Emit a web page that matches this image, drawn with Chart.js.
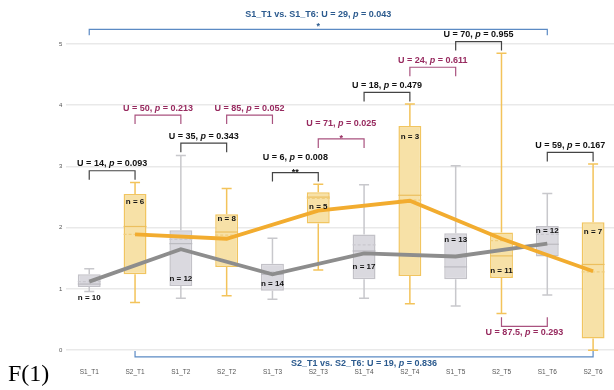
<!DOCTYPE html>
<html>
<head>
<meta charset="utf-8">
<script src="https://cdn.jsdelivr.net/npm/chart.js@4.4.1/dist/chart.umd.min.js"></script>
<style>
    html, body { margin: 0; padding: 0; background: #fff; overflow: hidden; }
    #wrap { position: relative; width: 614px; height: 390px; overflow: hidden; }
    #figLabel {
        position: absolute; left: 8px; top: 361px;
        font-family: "Liberation Serif", "DejaVu Serif", serif; font-size: 24px; color: #000;
        line-height: 1;
    }
</style>
</head>
<body>
<div id="wrap">
    <canvas id="boxChart" width="622" height="408"></canvas>
    <div id="figLabel">F(1)</div>
</div>
<script>
// --- データ ---
const categories  = ['S1_T1', 'S2_T1', 'S1_T2', 'S2_T2', 'S1_T3', 'S2_T3', 'S1_T4', 'S2_T4', 'S1_T5', 'S2_T5', 'S1_T6', 'S2_T6'];
const whiskerLow  = [0.96, 0.78, 0.85, 0.89, 0.83, 1.31, 0.85, 0.76, 0.72, 0.60, 0.90, 0.00];
const quartile1   = [1.03, 1.24, 1.05, 1.36, 0.97, 2.07, 1.16, 1.21, 1.16, 1.18, 1.53, 0.19];
const medians     = [1.08, 2.02, 1.74, 1.93, 1.24, 2.50, 1.62, 2.53, 1.36, 1.54, 1.73, 1.40];
const means       = [1.12, 1.89, 1.81, 1.88, 1.28, 2.48, 1.72, 2.45, 1.52, 1.79, 1.89, 1.28];
const quartile3   = [1.24, 2.55, 1.96, 2.22, 1.41, 2.58, 1.89, 3.66, 1.91, 1.92, 2.03, 2.09];
const whiskerHigh = [1.33, 2.74, 3.18, 2.64, 1.83, 2.71, 2.70, 4.02, 3.01, 4.85, 2.56, 3.04];
const sampleSizes = [10, 6, 12, 8, 14, 5, 17, 3, 13, 11, 12, 7];
// n ラベルの値位置 (y)
const nLabelAt    = [0.85, 2.43, 1.17, 2.14, 1.08, 2.34, 1.37, 3.48, 1.81, 1.29, 1.95, 1.94];

// 折れ線 (S1 / S2)
const s1Trend = [1.12, 1.65, 1.24, 1.58, 1.53, 1.74];
const s2Trend = [1.89, 1.82, 2.28, 2.44, 1.82, 1.29];

const yTicks = [0, 1, 2, 3, 4, 5];

// 検定ブラケット
const tests = [
    { a: 'S1_T1', b: 'S2_T1', y: 2.93, u: '14', p: '0.093', sig: '',   kind: 'pair' },
    { a: 'S1_T2', b: 'S2_T2', y: 3.38, u: '35', p: '0.343', sig: '',   kind: 'pair' },
    { a: 'S1_T3', b: 'S2_T3', y: 2.90, u: '6',  p: '0.008', sig: '**', kind: 'pair' },
    { a: 'S1_T4', b: 'S2_T4', y: 4.21, u: '18', p: '0.479', sig: '',   kind: 'pair' },
    { a: 'S1_T5', b: 'S2_T5', y: 5.04, u: '70', p: '0.955', sig: '',   kind: 'pair' },
    { a: 'S1_T6', b: 'S2_T6', y: 3.23, u: '59', p: '0.167', sig: '',   kind: 'pair' },
    { a: 'S2_T1', b: 'S1_T2', y: 3.84, u: '50', p: '0.213', sig: '',   kind: 'cross' },
    { a: 'S2_T2', b: 'S1_T3', y: 3.84, u: '85', p: '0.052', sig: '',   kind: 'cross' },
    { a: 'S2_T3', b: 'S1_T4', y: 3.45, u: '71', p: '0.025', sig: '*',  kind: 'cross' },
    { a: 'S2_T4', b: 'S1_T5', y: 4.62, u: '24', p: '0.611', sig: '',   kind: 'cross' },
    { a: 'S2_T5', b: 'S1_T6', y: 0.39, u: '87.5', p: '0.293', sig: '', kind: 'cross', below: true },
    { a: 'S1_T1', b: 'S1_T6', y: 5.24, u: '29', p: '0.043', sig: '*',  kind: 'span', title: 'S1_T1 vs. S1_T6: ' },
    { a: 'S2_T1', b: 'S2_T6', y: -0.11, u: '19', p: '0.836', sig: '',  kind: 'span', title: 'S2_T1 vs. S2_T6: ', below: true },
];

// --- スタイル ---
const FONT = '"Liberation Sans", Arial, sans-serif';
const boxStyle = {
    S1: { fill: '#dad9df', border: '#c3c2c8', whisker: '#c8c8cc', median: '#bbbac0', mean: '#c9c8ce' },
    S2: { fill: '#f7e1a7', border: '#f1c560', whisker: '#f3c35a', median: '#ecbf5e', mean: '#f0cd7d' },
};
const bracketStyle = {
    pair:  { line: '#444444', text: '#111111', tick: 9 },
    cross: { line: '#a9527f', text: '#972a5f', tick: 9 },
    span:  { line: '#5b8ac4', text: '#2b5a8e', tick: 6 },
};
const seriesOf = c => c.slice(0, 2);

// --- プラグイン: ひげ・中央値・平均 ---
const boxPartsPlugin = {
    id: 'boxParts',
    afterDatasetDraw(chart, args) {
        if (args.index !== 0) return;
        const { ctx, scales: { y } } = chart;
        const meta = chart.getDatasetMeta(0);
        ctx.save();
        categories.forEach((c, i) => {
            const st = boxStyle[seriesOf(c)];
            const bar = meta.data[i];
            const cx = bar.x;
            const half = bar.width / 2;
            const capHalf = 5;
            ctx.strokeStyle = st.whisker;
            ctx.lineWidth = 1.5;
            ctx.setLineDash([]);
            ctx.beginPath();
            ctx.moveTo(cx, y.getPixelForValue(quartile3[i]));
            ctx.lineTo(cx, y.getPixelForValue(whiskerHigh[i]));
            ctx.moveTo(cx, y.getPixelForValue(quartile1[i]));
            ctx.lineTo(cx, y.getPixelForValue(whiskerLow[i]));
            [whiskerHigh[i], whiskerLow[i]].forEach(v => {
                const py = y.getPixelForValue(v);
                ctx.moveTo(cx - capHalf, py);
                ctx.lineTo(cx + capHalf, py);
            });
            ctx.stroke();

            // 中央値
            ctx.strokeStyle = st.median;
            ctx.lineWidth = 1.2;
            ctx.beginPath();
            const pm = y.getPixelForValue(medians[i]);
            ctx.moveTo(cx - half, pm);
            ctx.lineTo(cx + half, pm);
            ctx.stroke();

            // 平均 (破線)
            ctx.strokeStyle = st.mean;
            ctx.setLineDash([3, 2]);
            ctx.beginPath();
            const pa = y.getPixelForValue(means[i]);
            ctx.moveTo(cx - half, pa);
            ctx.lineTo(cx + half, pa);
            ctx.stroke();
        });
        ctx.restore();
    }
};

function drawStatText(ctx, cx, cy, prefix, u, p, color) {
    const parts = [
        [prefix + 'U = ' + u + ', ', 'bold 9px ' + FONT],
        ['p', 'italic bold 9px ' + FONT],
        [' = ' + p, 'bold 9px ' + FONT],
    ];
    let total = 0;
    parts.forEach(([t, f]) => { ctx.font = f; total += ctx.measureText(t).width; });
    let px = cx - total / 2;
    ctx.fillStyle = color;
    ctx.textAlign = 'left';
    ctx.textBaseline = 'middle';
    parts.forEach(([t, f]) => {
        ctx.font = f;
        ctx.fillText(t, px, cy);
        px += ctx.measureText(t).width;
    });
}

// --- プラグイン: ブラケット・n ラベル ---
const annotatePlugin = {
    id: 'annotate',
    afterDraw(chart) {
        const { ctx, scales: { x, y } } = chart;
        ctx.save();

        // n ラベル
        ctx.font = 'bold 8px ' + FONT;
        ctx.fillStyle = '#111';
        ctx.textAlign = 'center';
        ctx.textBaseline = 'middle';
        categories.forEach((c, i) => {
            ctx.fillText('n = ' + sampleSizes[i], x.getPixelForValue(i), y.getPixelForValue(nLabelAt[i]));
        });

        // ブラケット
        tests.forEach(t => {
            const st = bracketStyle[t.kind];
            const x1 = x.getPixelForValue(categories.indexOf(t.a));
            const x2 = x.getPixelForValue(categories.indexOf(t.b));
            const py = y.getPixelForValue(t.y);
            const dir = t.below ? -1 : 1;
            ctx.strokeStyle = st.line;
            ctx.lineWidth = 1.2;
            ctx.beginPath();
            ctx.moveTo(x1, py + dir * st.tick);
            ctx.lineTo(x1, py);
            ctx.lineTo(x2, py);
            ctx.lineTo(x2, py + dir * st.tick);
            ctx.stroke();

            const cx = (x1 + x2) / 2;
            let ty;
            if (t.below) ty = py + 6.5;
            else ty = t.sig ? py - 15 : py - 7;
            drawStatText(ctx, cx, ty, t.title || '', t.u, t.p, st.text);

            if (t.sig) {
                ctx.font = 'bold 9px ' + FONT;
                ctx.fillStyle = st.text;
                ctx.textAlign = 'center';
                ctx.textBaseline = 'alphabetic';
                ctx.fillText(t.sig, cx, py + (t.kind === 'span' ? 0 : 2));
            }
        });
        ctx.restore();
    }
};

// --- チャート ---
const s1Cats = categories.filter(c => seriesOf(c) === 'S1');
const s2Cats = categories.filter(c => seriesOf(c) === 'S2');

new Chart(document.getElementById('boxChart').getContext('2d'), {
    type: 'bar',
    data: {
        labels: categories,
        datasets: [
            {
                label: 'box',
                data: categories.map((c, i) => [quartile1[i], quartile3[i]]),
                backgroundColor: categories.map(c => boxStyle[seriesOf(c)].fill),
                borderColor: categories.map(c => boxStyle[seriesOf(c)].border),
                borderWidth: 1.5,
                borderSkipped: false,
                barPercentage: 0.5,
                categoryPercentage: 1.0,
                order: 2
            },
            {
                type: 'line',
                label: 'S1',
                data: s1Cats.map((c, i) => ({ x: c, y: s1Trend[i] })),
                borderColor: '#8d8d8d',
                borderWidth: 3.8,
                pointRadius: 0,
                tension: 0,
                order: 1
            },
            {
                type: 'line',
                label: 'S2',
                data: s2Cats.map((c, i) => ({ x: c, y: s2Trend[i] })),
                borderColor: '#f2ac2f',
                borderWidth: 3.8,
                pointRadius: 0,
                tension: 0,
                order: 0
            }
        ]
    },
    options: {
        responsive: false,
        devicePixelRatio: 1,
        animation: false,
        layout: { padding: { top: 44, left: 55, right: 6, bottom: 14 } },
        scales: {
            x: {
                type: 'category',
                offset: true,
                grid: { display: false, drawTicks: false },
                border: { display: false },
                ticks: { font: { family: FONT, size: 6.5 }, color: '#555', padding: 18, maxRotation: 0, autoSkip: false }
            },
            y: {
                min: 0,
                max: 5,
                afterBuildTicks: axis => { axis.ticks = yTicks.map(v => ({ value: v })); },
                ticks: { font: { family: FONT, size: 6 }, color: '#555', padding: 4 },
                grid: { color: '#e9e9e9', lineWidth: 1.5, drawTicks: false },
                border: { display: false }
            }
        },
        plugins: {
            legend: { display: false },
            tooltip: { enabled: false }
        }
    },
    plugins: [boxPartsPlugin, annotatePlugin]
});
</script>
</body>
</html>
